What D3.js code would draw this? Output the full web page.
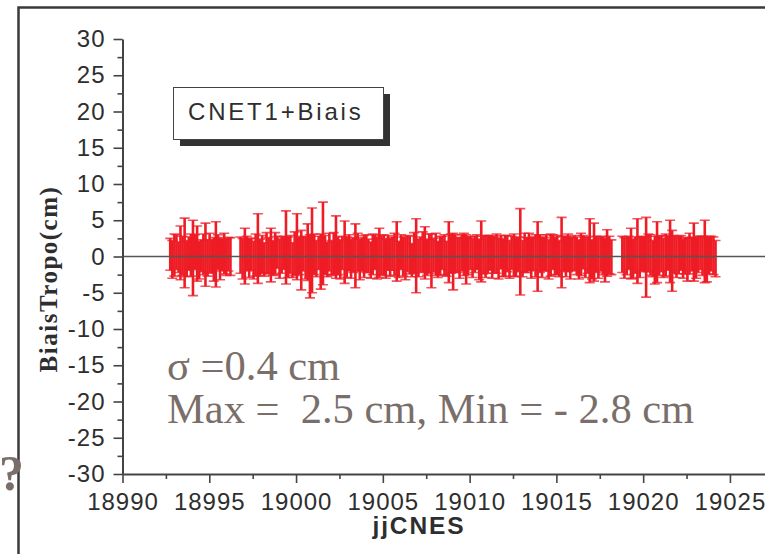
<!DOCTYPE html>
<html>
<head>
<meta charset="utf-8">
<script src="https://cdn.jsdelivr.net/npm/d3@7"></script>
<style>
  body { margin: 0; background: #fff; }
  svg { display: block; }
</style>
</head>
<body>
<div id="chart"></div>
<script>
// tropo bias (cm) and its error bar (cm) per arc, x = CNES julian day
var arc1Days = [18992.75, 18992.87, 18992.99, 18993.11, 18993.23, 18993.34, 18993.46, 18993.58, 18993.70, 18993.82,
  18993.94, 18994.06, 18994.18, 18994.30, 18994.42, 18994.54, 18994.66, 18994.78, 18994.90, 18995.02,
  18995.14, 18995.26, 18995.38, 18995.50, 18995.62, 18995.74, 18995.86, 18995.98, 18996.10, 18996.22];
var arc1Bias = [0.3, -0.4, 0.2, 0.6, -0.1, 0.5, 0.1, 0.5, -0.3, 0.4, 0.2, -0.2, 0.6, 0.4, -0.5,
  0.1, 0.3, 0.25, -0.2, 0.5, 0.0, -0.4, 0.3, 0.6, -0.3, 0.2, 0.4, -0.1, 0.3, 0.0];
var arc1Err = [2.2, 2.6, 2.9, 2.4, 2.1, 3.7, 2.7, 4.8, 2.5, 2.3, 2.9, 5.2, 2.4, 3.8, 2.6,
  2.2, 2.8, 4.35, 2.5, 2.7, 2.3, 3.0, 4.5, 2.4, 2.9, 2.2, 2.8, 2.5, 2.3, 2.6];

var arc2Days = [18996.80, 18996.92,
  18997.05, 18997.17, 18997.30, 18997.42, 18997.55, 18997.67, 18997.80, 18997.92,
  18998.05, 18998.17, 18998.30, 18998.42, 18998.55, 18998.67, 18998.80, 18998.92,
  18999.05, 18999.17, 18999.30, 18999.42, 18999.55, 18999.67, 18999.80, 18999.92,
  19000.05, 19000.17, 19000.30, 19000.42, 19000.55, 19000.67, 19000.80, 19000.92,
  19001.05, 19001.17, 19001.30, 19001.42, 19001.55, 19001.67, 19001.80, 19001.92,
  19002.05, 19002.17, 19002.30, 19002.42, 19002.55, 19002.67, 19002.80, 19002.92,
  19003.05, 19003.17, 19003.30, 19003.42, 19003.55, 19003.67, 19003.80, 19003.92,
  19004.05, 19004.17, 19004.30, 19004.42, 19004.55, 19004.67, 19004.80, 19004.92,
  19005.05, 19005.17, 19005.30, 19005.42, 19005.55, 19005.67, 19005.80, 19005.92,
  19006.05, 19006.17, 19006.30, 19006.42, 19006.55, 19006.67, 19006.80, 19006.92,
  19007.05, 19007.17, 19007.30, 19007.42, 19007.55, 19007.67, 19007.80, 19007.92,
  19008.05, 19008.17, 19008.30, 19008.42, 19008.55, 19008.67, 19008.80, 19008.92,
  19009.05, 19009.17, 19009.30, 19009.42, 19009.55, 19009.67, 19009.80, 19009.92,
  19010.05, 19010.17, 19010.30, 19010.42, 19010.55, 19010.67, 19010.80, 19010.92,
  19011.05, 19011.17, 19011.30, 19011.42, 19011.55, 19011.67, 19011.80, 19011.92,
  19012.05, 19012.17, 19012.30, 19012.42, 19012.55, 19012.67, 19012.80, 19012.92,
  19013.05, 19013.17, 19013.30, 19013.42, 19013.55, 19013.67, 19013.80, 19013.92,
  19014.05, 19014.17, 19014.30, 19014.42, 19014.55, 19014.67, 19014.80, 19014.92,
  19015.05, 19015.17, 19015.30, 19015.42, 19015.55, 19015.67, 19015.80, 19015.92,
  19016.05, 19016.17, 19016.30, 19016.42, 19016.55, 19016.67, 19016.80, 19016.92,
  19017.05, 19017.17, 19017.30, 19017.42, 19017.55, 19017.67, 19017.80, 19017.92,
  19018.05, 19018.17];
var arc2Bias = [0.2, -0.3,
  0.05, 0.4, -0.2, 0.3, -0.5, 0.2, 1.1, -0.1,
  0.3, -0.4, 0.5, 0.1, 0.2, -0.2, 0.4, 0.6,
  -0.3, 0.2, 0.5, 1.25, -0.1, 0.3, -0.5, 0.4,
  1.35, 0.1, -0.5, 0.4, -0.2, 0.6, -1.35, 0.85,
  0.3, -0.3, 0.5, -0.7, 1.8, 0.2, -0.4, 0.6,
  -0.2, 0.4, 1.3, 0.1, -0.4, 0.5, 0.6, -0.1,
  0.5, -0.3, 0.2, 0.1, 0.6, -0.4, 0.3, 0.0,
  0.4, 0.1, -0.5, 0.3, 0.6, -0.2, 0.5, 0.2,
  0.2, -0.3, 0.5, -0.1, 0.4, 0.3, 0.7, -0.4,
  0.6, 0.0, -0.3, 0.4, 0.2, -0.5, 0.5, 0.1,
  -0.2, 0.3, 0.6, 0.5, -0.1, 0.4, -0.6, 0.2,
  0.3, -0.4, 0.1, 0.5, 0.2, -0.3, 0.6, 0.4,
  -0.7, 0.4, 0.2, -0.2, 0.5, 0.3, -0.4, 0.1,
  0.5, -0.2, 0.3, 0.6, -0.4, 0.7, 0.2, 0.0,
  0.3, 0.5, -0.1, 0.2, 0.4, -0.3, 0.6, -0.2,
  0.1, 0.4, -0.4, 0.5, 0.2, -0.1, 0.3, 0.65,
  -0.3, 0.5, 0.2, 0.6, -0.2, 0.4, 0.1, 0.0,
  0.4, -0.1, 0.3, 0.5, -0.4, 0.2, 0.6, 0.1,
  0.2, -0.3, 0.55, 0.4, 0.0, 0.5, -0.2, 0.3,
  0.5, 0.1, -0.4, 0.3, 0.6, -0.1, 0.2, 0.8,
  -0.4, 0.6, 0.3, -0.2, 0.4, 0.1, -0.5, 0.5,
  0.2, -0.1];
var arc2Err = [2.5, 2.8,
  3.85, 2.4, 2.7, 2.2, 2.6, 2.9, 4.8, 2.5,
  2.6, 2.3, 2.8, 2.5, 3.7, 2.4, 2.9, 2.2,
  2.7, 2.5, 2.3, 5.05, 2.8, 2.6, 2.4, 3.0,
  4.55, 2.6, 4.1, 2.4, 2.9, 3.9, 4.35, 5.85,
  2.8, 2.5, 2.3, 3.8, 5.7, 2.7, 2.4, 2.6,
  2.4, 2.9, 4.3, 2.6, 2.7, 2.3, 4.3, 2.8,
  2.5, 2.7, 2.4, 4.4, 2.6, 2.8, 2.3, 2.9,
  2.6, 2.3, 2.5, 2.8, 2.4, 2.9, 3.4, 2.7,
  2.8, 2.7, 2.4, 2.6, 2.3, 2.9, 4.1, 2.5,
  2.4, 2.7, 2.9, 2.5, 2.6, 2.3, 2.8, 5.1,
  2.6, 2.4, 2.8, 3.6, 2.5, 2.7, 3.7, 2.3,
  2.9, 2.5, 2.6, 2.3, 2.8, 2.4, 4.2, 2.7,
  3.9, 2.6, 2.4, 2.8, 2.5, 2.9, 3.4, 2.6,
  2.3, 2.7, 2.5, 2.4, 2.8, 4.2, 2.6, 2.9,
  2.6, 2.4, 2.9, 2.5, 2.7, 2.8, 2.3, 2.6,
  2.8, 2.5, 2.6, 2.3, 2.9, 2.7, 2.4, 5.95,
  2.5, 2.7, 2.4, 2.6, 2.8, 2.3, 2.9, 4.8,
  2.6, 2.8, 2.3, 2.5, 2.7, 2.9, 2.4, 2.6,
  2.7, 2.5, 4.85, 2.4, 2.8, 2.6, 2.9, 2.3,
  2.4, 2.6, 2.7, 2.9, 2.3, 2.8, 2.5, 4.4,
  2.7, 4.0, 2.5, 2.8, 2.4, 2.6, 3.0, 3.2,
  2.6, 2.4];

var arc3Days = [19018.80, 19018.92,
  19019.05, 19019.17, 19019.30, 19019.42, 19019.55, 19019.67, 19019.80, 19019.92,
  19020.05, 19020.17, 19020.30, 19020.42, 19020.55, 19020.67, 19020.80, 19020.92,
  19021.05, 19021.17, 19021.30, 19021.42, 19021.55, 19021.67, 19021.80, 19021.92,
  19022.05, 19022.17, 19022.30, 19022.42, 19022.55, 19022.67, 19022.80, 19022.92,
  19023.05, 19023.17, 19023.30, 19023.42, 19023.55, 19023.67, 19023.80, 19023.92,
  19024.05, 19024.17];
var arc3Bias = [0.3, -0.2,
  0.1, 0.5, 0.4, -0.3, 0.2, 0.75, -0.1, 0.4,
  0.3, -0.1, 0.5, 0.2, -0.3, -0.5, 0.6, 0.1,
  0.4, -0.2, 0.2, 0.5, 0.7, -0.6, 0.3, -0.1,
  0.2, 0.5, -0.3, 0.1, -0.4, 0.4, 0.3, 0.6,
  -0.2, 0.3, 0.5, 0.1, 0.7, -0.4, 0.2, 0.4,
  0.1, -0.3];
var arc3Err = [2.5, 2.8,
  2.6, 2.3, 3.5, 2.7, 2.5, 4.45, 2.8, 2.4,
  2.4, 5.5, 2.6, 2.8, 2.5, 3.3, 4.2, 2.7,
  2.5, 2.7, 2.9, 2.4, 4.3, 4.2, 2.6, 2.8,
  2.6, 2.4, 2.7, 2.5, 3.0, 2.8, 2.3, 4.0,
  2.8, 2.5, 2.3, 2.7, 4.3, 3.1, 2.6, 2.4,
  2.6, 2.5];

var xTicks = [18990, 18995, 19000, 19005, 19010, 19015, 19020, 19025];
var xMinorTicks = [18992.5, 18997.5, 19002.5, 19007.5, 19012.5, 19017.5, 19022.5];
var yTicks = [-30, -25, -20, -15, -10, -5, 0, 5, 10, 15, 20, 25, 30];
var yMinorTicks = [-27.5, -22.5, -17.5, -12.5, -7.5, -2.5, 2.5, 7.5, 12.5, 17.5, 22.5, 27.5];

var legendText = "CNET1+Biais";
var statLines = ["\u03c3 =0.4 cm", "Max =  2.5 cm, Min = - 2.8 cm"];

var svgWidth = 765;
var svgHeight = 554;

var sans = "'Liberation Sans', Arial, sans-serif";
var serif = "'Liberation Serif', 'Times New Roman', serif";
var axisColor = "#444";
var textColor = "#2e2e2e";
var noteColor = "#7a6e6a";
var barColor = "#ee1c25";

var svg = d3.select("#chart")
  .append("svg")
  .attr("width", svgWidth)
  .attr("height", svgHeight);

svg.append("rect")
  .attr("width", svgWidth)
  .attr("height", svgHeight)
  .attr("fill", "#fff");

// outer frame (only left and top edges are in view)
svg.append("rect")
  .attr("x", 18.5)
  .attr("y", 7.5)
  .attr("width", 900)
  .attr("height", 700)
  .attr("fill", "none")
  .attr("stroke", "#3a3a3a")
  .attr("stroke-width", 2.5);

// scales: x axis runs on past 19025 to the right edge
var x = d3.scaleLinear().domain([18990, 19027.02]).range([122.5, 765]);
var y = d3.scaleLinear().domain([-30, 30]).range([474, 39]);

// build point list from the arcs
var points = [];
[[arc1Days, arc1Bias, arc1Err], [arc2Days, arc2Bias, arc2Err], [arc3Days, arc3Bias, arc3Err]]
  .forEach(function(arc) {
    arc[0].forEach(function(d, i) {
      points.push({day: d, bias: arc[1][i], err: arc[2][i]});
    });
  });

// error bars: stems then caps
var cap = 5;
var bars = svg.append("g");
bars.selectAll(".stem")
  .data(points)
  .enter()
  .append("line")
  .attr("class", "stem")
  .attr("x1", d => x(d.day))
  .attr("x2", d => x(d.day))
  .attr("y1", d => y(d.bias + d.err))
  .attr("y2", d => y(d.bias - d.err))
  .attr("stroke", barColor)
  .attr("stroke-width", 2.6);

bars.selectAll(".cap")
  .data(points)
  .enter()
  .append("path")
  .attr("class", "cap")
  .attr("d", function(d) {
    var px = x(d.day);
    var y1 = y(d.bias + d.err);
    var y2 = y(d.bias - d.err);
    return "M" + (px - cap) + "," + y1 + "H" + (px + cap) +
      "M" + (px - cap) + "," + y2 + "H" + (px + cap);
  })
  .attr("fill", "none")
  .attr("stroke", barColor)
  .attr("stroke-opacity", 0.75)
  .attr("stroke-width", 1.6);

// zero line
svg.append("line")
  .attr("x1", x(18990))
  .attr("x2", x.range()[1])
  .attr("y1", y(0))
  .attr("y2", y(0))
  .attr("stroke", "#555")
  .attr("stroke-width", 1.5);

// y axis
var leftAxis = d3.axisLeft(y).tickValues(yTicks).tickSize(9).tickSizeOuter(0).tickPadding(8)
  .tickFormat(d => String(d));
svg.append("g")
  .attr("transform", "translate(" + x(18990) + ",0)")
  .call(leftAxis);
svg.append("g")
  .attr("transform", "translate(" + x(18990) + ",0)")
  .call(d3.axisLeft(y).tickValues(yMinorTicks).tickSize(5).tickFormat(""))
  .select(".domain").remove();

// x axis
var bottomAxis = d3.axisBottom(x).tickValues(xTicks).tickSize(9).tickSizeOuter(0).tickPadding(10)
  .tickFormat(d => String(d));
svg.append("g")
  .attr("transform", "translate(0," + y(-30) + ")")
  .call(bottomAxis);
svg.append("g")
  .attr("transform", "translate(0," + y(-30) + ")")
  .call(d3.axisBottom(x).tickValues(xMinorTicks).tickSize(5).tickFormat(""))
  .select(".domain").remove();

svg.selectAll(".domain")
  .attr("stroke", axisColor)
  .attr("stroke-width", 2);
svg.selectAll(".tick line")
  .attr("stroke", axisColor)
  .attr("stroke-width", 1.6);
svg.selectAll(".tick text")
  .attr("fill", textColor)
  .style("font-family", sans)
  .style("font-size", "24px")
  .style("letter-spacing", "1px");

// axis titles
svg.append("text")
  .attr("transform", "translate(57,279) rotate(-90)")
  .attr("text-anchor", "middle")
  .attr("fill", textColor)
  .style("font-family", serif)
  .style("font-weight", "bold")
  .style("font-size", "25px")
  .style("letter-spacing", "1.5px")
  .text("BiaisTropo(cm)");

svg.append("text")
  .attr("x", 419)
  .attr("y", 534)
  .attr("text-anchor", "middle")
  .attr("fill", textColor)
  .style("font-family", sans)
  .style("font-weight", "bold")
  .style("font-size", "24.5px")
  .style("letter-spacing", "1.9px")
  .text("jjCNES");

// legend box with drop shadow
var legend = svg.append("g");
legend.append("rect")
  .attr("x", 180)
  .attr("y", 94)
  .attr("width", 210)
  .attr("height", 52)
  .attr("fill", "#333");
legend.append("rect")
  .attr("x", 173.5)
  .attr("y", 87.5)
  .attr("width", 210)
  .attr("height", 52)
  .attr("fill", "#fff")
  .attr("stroke", "#444")
  .attr("stroke-width", 1);
legend.append("text")
  .attr("x", 188)
  .attr("y", 120)
  .attr("fill", textColor)
  .style("font-family", sans)
  .style("font-size", "24px")
  .style("letter-spacing", "2.8px")
  .text(legendText);

// statistics note
svg.selectAll(".stat")
  .data(statLines)
  .enter()
  .append("text")
  .attr("class", "stat")
  .attr("x", 167)
  .attr("y", function(d, i) { return 380 + i * 43; })
  .attr("fill", noteColor)
  .style("font-family", serif)
  .style("font-size", "42.5px")
  .style("white-space", "pre")
  .text(function(d) { return d; });

// stray mark at the left edge
svg.append("text")
  .attr("x", -1)
  .attr("y", 490)
  .attr("fill", noteColor)
  .style("font-family", serif)
  .style("font-weight", "bold")
  .style("font-size", "50px")
  .text("?");
</script>
</body>
</html>
